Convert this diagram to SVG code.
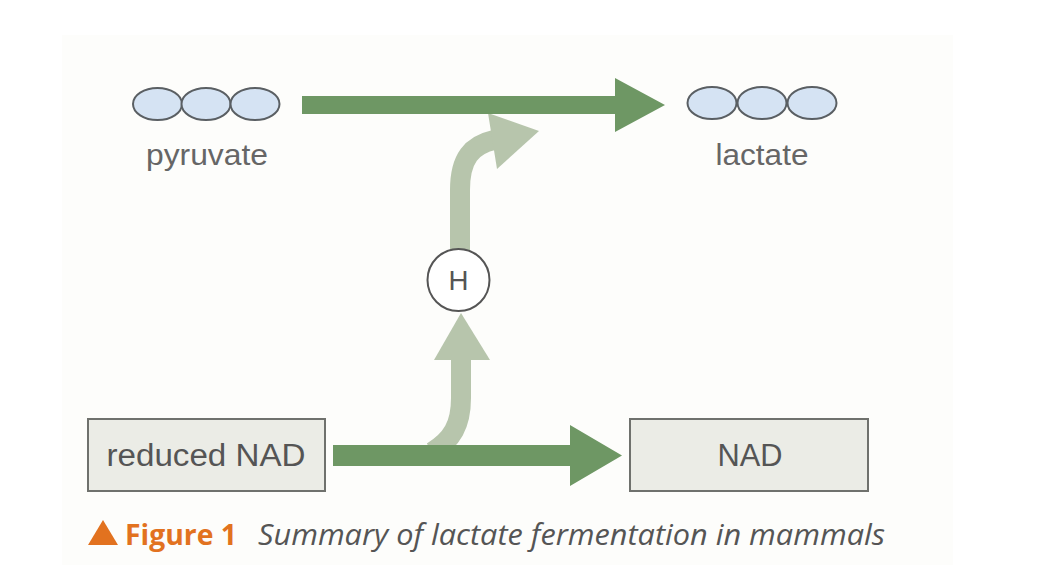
<svg xmlns="http://www.w3.org/2000/svg" width="1044" height="582" viewBox="0 0 1044 582">
<style>
.mol{fill:#d5e3f3;stroke:#5a5f63;stroke-width:2}
.lbl{font-family:"Liberation Sans",Arial,sans-serif;font-size:29px;fill:#666;text-anchor:middle}
.box{fill:#ebece6;stroke:#6f716d;stroke-width:2}
.boxt{font-family:"Liberation Sans",Arial,sans-serif;font-size:31px;fill:#555;text-anchor:middle}
.dark{fill:#6e9764}
.light{fill:none;stroke:#b7c5ac;stroke-width:20}
.lighth{fill:#b7c5ac}
</style>
<rect width="1044" height="582" fill="#ffffff"/>
<rect x="62" y="35" width="891" height="530" fill="#fdfdfb"/>
<g id="connectors">
  <path class="light" d="M432,452 C452,440 461,425 461,398 L461,356"/>
  <polygon class="lighth" points="461,313 490,360 434,360"/>
  <path class="light" d="M460,250 L460,190 C460,158 472,145 494,140"/>
  <polygon class="lighth" points="539,131 488,113 497,169"/>
  <polygon class="dark" points="302,96 615,96 615,78 665,105 615,132 615,114 302,114"/>
  <polygon class="dark" points="333,445 570,445 570,425 622,455.5 570,486 570,466 333,466"/>
</g>
<g id="pyruvate">
  <ellipse class="mol" cx="157.5" cy="104" rx="24.5" ry="16"/>
  <ellipse class="mol" cx="206" cy="104" rx="24.5" ry="16"/>
  <ellipse class="mol" cx="255" cy="104" rx="24.5" ry="16"/>
  <text class="lbl" x="207" y="165" textLength="122" lengthAdjust="spacingAndGlyphs">pyruvate</text>
</g>
<g id="lactate">
  <ellipse class="mol" cx="712" cy="103" rx="24.5" ry="16"/>
  <ellipse class="mol" cx="762" cy="103" rx="24.5" ry="16"/>
  <ellipse class="mol" cx="812" cy="103" rx="24.5" ry="16"/>
  <text class="lbl" x="762" y="165" textLength="93" lengthAdjust="spacingAndGlyphs">lactate</text>
</g>
<g id="hydrogen">
  <circle cx="458.5" cy="280" r="31" fill="#ffffff" stroke="#555" stroke-width="2"/>
  <text x="458.5" y="290" font-family="Liberation Sans,Arial,sans-serif" font-size="28" fill="#555" text-anchor="middle" textLength="20" lengthAdjust="spacingAndGlyphs">H</text>
</g>
<g id="reducedNAD">
  <rect class="box" x="88" y="419" width="237" height="72"/>
  <text class="boxt" x="206" y="466" textLength="199" lengthAdjust="spacingAndGlyphs">reduced NAD</text>
</g>
<g id="NAD">
  <rect class="box" x="630" y="419" width="238" height="72"/>
  <text class="boxt" x="750" y="466" textLength="65" lengthAdjust="spacingAndGlyphs">NAD</text>
</g>
<g id="caption">
  <polygon points="103,520 118,545 88,545" fill="#e2721f"/>
  <text x="125" y="545" font-family="Open Sans,Lato,sans-serif" font-weight="bold" font-size="28" fill="#e2721f" textLength="112" lengthAdjust="spacingAndGlyphs">Figure 1</text>
  <text x="258" y="545" font-family="Open Sans,Lato,sans-serif" font-style="italic" font-size="29" fill="#555" textLength="627" lengthAdjust="spacingAndGlyphs">Summary of lactate fermentation in mammals</text>
</g>
</svg>
